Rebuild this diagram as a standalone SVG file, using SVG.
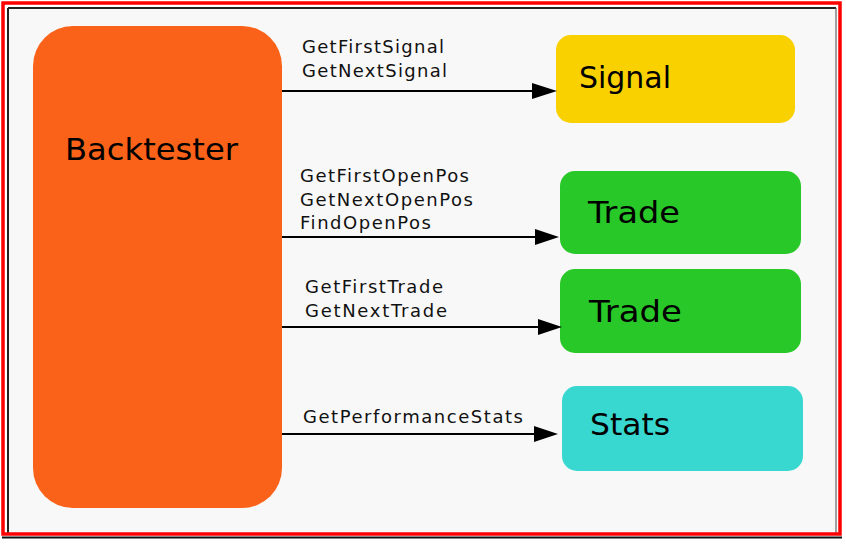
<svg xmlns="http://www.w3.org/2000/svg" width="846" height="544" viewBox="0 0 846 544">
<style>
.lbl{font-family:"DejaVu Sans",Verdana,sans-serif;font-size:18px;fill:#111}
.big{font-family:"DejaVu Sans",Verdana,sans-serif;font-size:31px;fill:#000}
.conn line{stroke:#000;stroke-width:2}
.conn polygon{fill:#000}
</style>
<rect x="0" y="0" width="846" height="544" fill="#ffffff"/>
<rect x="8" y="8" width="828" height="526" fill="#f8f8f8"/>
<line x1="8" y1="8" x2="836" y2="8" stroke="#222" stroke-width="2"/>
<line x1="8" y1="8" x2="8" y2="533" stroke="#222" stroke-width="2"/>
<line x1="836" y1="8" x2="836" y2="534" stroke="#444" stroke-width="1"/>
<rect x="3" y="3" width="837" height="531" fill="none" stroke="#ff0000" stroke-width="3.5"/>
<line x1="2" y1="537.5" x2="842" y2="537.5" stroke="#111" stroke-width="2"/>

<g id="backtester">
<rect x="33" y="26" width="249" height="482" rx="40" ry="40" fill="#f96218"/>
<text class="big" x="65" y="160" font-size="32" textLength="173" lengthAdjust="spacingAndGlyphs">Backtester</text>
</g>
<g id="signal">
<rect x="556" y="35" width="239" height="88" rx="15" ry="15" fill="#f9d000"/>
<text class="big" x="579" y="88" textLength="92" lengthAdjust="spacingAndGlyphs">Signal</text>
</g>
<g id="trade1">
<rect x="560" y="171" width="241" height="83" rx="15" ry="15" fill="#28c828"/>
<text class="big" x="588" y="223" textLength="92" lengthAdjust="spacingAndGlyphs">Trade</text>
</g>
<g id="trade2">
<rect x="560" y="269" width="241" height="84" rx="15" ry="15" fill="#28c828"/>
<text class="big" x="589" y="322" textLength="93" lengthAdjust="spacingAndGlyphs">Trade</text>
</g>
<g id="stats">
<rect x="562" y="386" width="241" height="85" rx="15" ry="15" fill="#38d8d0"/>
<text class="big" x="590" y="435" textLength="80" lengthAdjust="spacingAndGlyphs">Stats</text>
</g>

<g id="connectors" class="conn">
<line x1="282" y1="91" x2="540" y2="91"/>
<polygon points="532,83 557,91 532,99"/>
<line x1="282" y1="237" x2="540" y2="237"/>
<polygon points="535,229 559,237 535,245"/>
<line x1="282" y1="327" x2="545" y2="327"/>
<polygon points="538,319 562,327 538,335"/>
<line x1="282" y1="434" x2="540" y2="434"/>
<polygon points="534,426 558,434 534,442"/>
</g>

<g id="labels">
<text class="lbl" x="302" y="53" textLength="142" lengthAdjust="spacing">GetFirstSignal</text>
<text class="lbl" x="302" y="77" textLength="145" lengthAdjust="spacing">GetNextSignal</text>
<text class="lbl" x="300" y="182" textLength="169" lengthAdjust="spacing">GetFirstOpenPos</text>
<text class="lbl" x="300" y="206" textLength="173" lengthAdjust="spacing">GetNextOpenPos</text>
<text class="lbl" x="300" y="229" textLength="131" lengthAdjust="spacing">FindOpenPos</text>
<text class="lbl" x="305" y="293" textLength="138" lengthAdjust="spacing">GetFirstTrade</text>
<text class="lbl" x="305" y="317" textLength="142" lengthAdjust="spacing">GetNextTrade</text>
<text class="lbl" x="303" y="423" textLength="220" lengthAdjust="spacing">GetPerformanceStats</text>
</g>
</svg>
